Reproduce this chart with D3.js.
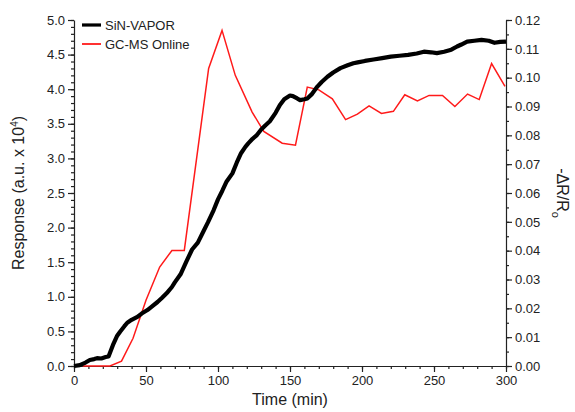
<!DOCTYPE html>
<html><head><meta charset="utf-8">
<script src="https://cdn.jsdelivr.net/npm/d3@7"></script>
<style>
body{margin:0;background:#fff;}
text{font-family:"Liberation Sans",Arial,sans-serif;fill:#222;}
</style></head><body>
<svg id="chart" width="575" height="412"></svg>
<script>
// SiN-VAPOR sensor (-ΔR/Ro, right axis)
const sinTime = [0,4,8,11,14,16,19,22,24,27,30,32,35,37,40,44,47,51,54,58,61,65,68,70,74,78,82,86,90,93,97,100,103,106,110,113,116,119,121,124,127,130,133,136,140,143,146,150,152,155,157,160,162,165,169,172,176,180,185,190,194,197,202,208,214,220,226,232,238,243,248,252,257,262,266,269,273,278,283,288,292,296,300];
const sinVal  = [0,0.0003,0.0012,0.0021,0.0024,0.0027,0.0026,0.0031,0.0033,0.0072,0.0105,0.0119,0.0138,0.0150,0.0160,0.0170,0.0182,0.0194,0.0206,0.0222,0.0236,0.0256,0.0274,0.0290,0.0318,0.0362,0.0404,0.0428,0.0468,0.0498,0.0541,0.0578,0.0608,0.0640,0.0668,0.0705,0.0738,0.0760,0.0772,0.0788,0.0801,0.0820,0.0835,0.0849,0.0878,0.0905,0.0925,0.0938,0.0936,0.0928,0.0922,0.0925,0.0928,0.0942,0.0969,0.0985,0.1003,0.1018,0.1033,0.1043,0.1050,0.1053,0.1058,0.1063,0.1068,0.1073,0.1076,0.1079,0.1084,0.1090,0.1088,0.1085,0.1090,0.1097,0.1108,0.1115,0.1125,0.1128,0.1131,0.1128,0.1121,0.1124,0.1125];
// GC-MS Online (Response, left axis)
const gcTime = [6,25,33,41,50,59.5,68,76.6,93.5,102.8,112,123.7,131.8,144.6,153.8,162,170,179.4,188.6,196.8,204.9,213.5,221.8,229.7,238.5,246.6,255.9,264.5,273.3,281.4,290,299.3];
const gcVal  = [0,0,0.07,0.40,0.95,1.43,1.67,1.67,4.30,4.85,4.20,3.67,3.39,3.22,3.19,4.03,3.99,3.86,3.56,3.64,3.76,3.65,3.68,3.92,3.83,3.91,3.91,3.75,3.93,3.85,4.37,4.04];
const xTicks = [0,50,100,150,200,250,300];
const yLeftTicks = [0,0.5,1,1.5,2,2.5,3,3.5,4,4.5,5];
const yRightTicks = [0,0.01,0.02,0.03,0.04,0.05,0.06,0.07,0.08,0.09,0.10,0.11,0.12];
const seriesNames = ["SiN-VAPOR","GC-MS Online"];

const svg = d3.select("#chart");
const L=74, R=506, T=20, B=366;
const x = d3.scaleLinear().domain([0,300]).range([L,R]);
const yL = d3.scaleLinear().domain([0,5]).range([B,T]);
const yR = d3.scaleLinear().domain([0,0.12]).range([B,T]);

function axisStyle(g){
  g.selectAll("path,line").attr("stroke","#222").attr("stroke-width",1.2);
  g.selectAll("text").attr("font-size","13px").attr("fill","#222");
}
// minor ticks
svg.append("g").attr("transform",`translate(0,${B})`)
  .call(d3.axisBottom(x).tickValues(d3.range(0,301,10)).tickSize(3).tickFormat(""))
  .call(g=>g.select(".domain").remove()).call(axisStyle);
svg.append("g").attr("transform",`translate(${L},0)`)
  .call(d3.axisLeft(yL).tickValues(d3.range(0,51,1).map(d=>d/10)).tickSize(3).tickFormat(""))
  .call(g=>g.select(".domain").remove()).call(axisStyle);
svg.append("g").attr("transform",`translate(${R},0)`)
  .call(d3.axisRight(yR).tickValues(d3.range(0,25,1).map(d=>d*0.005)).tickSize(3).tickFormat(""))
  .call(g=>g.select(".domain").remove()).call(axisStyle);
// major
svg.append("g").attr("transform",`translate(0,${B})`)
  .call(d3.axisBottom(x).tickValues(xTicks).tickSize(6).tickSizeOuter(0).tickPadding(4).tickFormat(d3.format("d")))
  .call(axisStyle);
svg.append("g").attr("transform",`translate(${L},0)`)
  .call(d3.axisLeft(yL).tickValues(yLeftTicks).tickSize(6).tickSizeOuter(0).tickPadding(3).tickFormat(d3.format(".1f")))
  .call(axisStyle);
svg.append("g").attr("transform",`translate(${R},0)`)
  .call(d3.axisRight(yR).tickValues(yRightTicks).tickSize(6).tickSizeOuter(0).tickPadding(3).tickFormat(d3.format(".2f")))
  .call(axisStyle);

// lines
const lineR = d3.line().x((d,i)=>x(sinTime[i])).y(d=>yR(d));
const lineL = d3.line().x((d,i)=>x(gcTime[i])).y(d=>yL(d));
svg.append("path").datum(gcVal).attr("d",lineL).attr("fill","none").attr("stroke","#ff1a1a").attr("stroke-width",1.5);
svg.append("path").datum(sinVal).attr("d",lineR).attr("fill","none").attr("stroke","#000").attr("stroke-width",4.2).attr("stroke-linejoin","round");

// legend
const leg = svg.append("g");
[["#000",3.2,25],["#ff1a1a",1.8,44]].forEach((s,i)=>{
  leg.append("line").attr("x1",82).attr("x2",101).attr("y1",s[2]).attr("y2",s[2]).attr("stroke",s[0]).attr("stroke-width",s[1]);
  leg.append("text").attr("x",105).attr("y",s[2]+4.5).attr("font-size","13px").text(seriesNames[i]);
});

// titles
svg.append("text").attr("x",(L+R)/2).attr("y",405).attr("text-anchor","middle").attr("font-size","16px").text("Time (min)");
const lt = svg.append("text").attr("transform",`translate(24,${(T+B)/2}) rotate(-90)`).attr("text-anchor","middle").attr("font-size","16px");
lt.append("tspan").text("Response (a.u. x 10");
lt.append("tspan").attr("font-size","10px").attr("dy","-6").text("4");
lt.append("tspan").attr("dy","6").text(")");
const rt = svg.append("text").attr("transform",`translate(557,${(T+B)/2}) rotate(90)`).attr("text-anchor","middle").attr("font-size","16px");
rt.append("tspan").text("-ΔR/R");
rt.append("tspan").attr("font-size","11px").attr("dy","5").text("o");
</script>
</body></html>
